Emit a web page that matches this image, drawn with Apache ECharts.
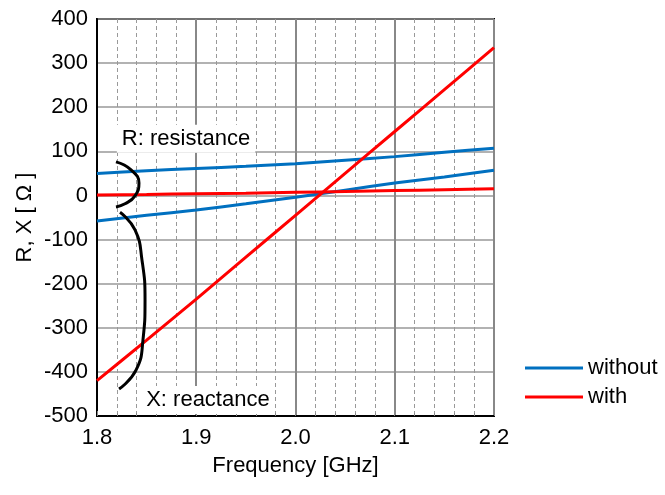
<!DOCTYPE html>
<html>
<head>
    <meta charset="utf-8" />
    <title>R, X vs frequency</title>
    <style type="text/css">
    body, html { margin: 0; width: 100%; height: 100%; overflow: hidden; background: #fff; }
    #container { width: 665px; height: 495px; }
    </style>
</head>
<body>
    <div id="container"></div>
<script src="https://cdn.jsdelivr.net/npm/echarts@6/dist/echarts.min.js"></script>
<script>
// frequency points (GHz)
var freq = [1.80, 1.85, 1.90, 1.95, 2.00, 2.05, 2.10, 2.15, 2.20];
// without: resistance / reactance
var withoutR = [50, 56, 61, 66, 72, 80, 88, 98, 107];
var withoutX = [-58, -45, -33, -19, -4, 12, 28, 42, 57];
// with: resistance / reactance
var withR = [1, 2, 4, 5, 7, 9, 11, 13, 15];
var withX = [-420, -328, -235, -140, -45, 50, 145, 240, 335];
var xTicks = ['1.8', '1.9', '2.0', '2.1', '2.2'];

// curly brace annotations (data coords)
var braceR = [[1.8191, 76], [1.8343, 58], [1.8423, 28], [1.8383, -1], [1.8282, -19], [1.8191, -26]];
var braceX = [[1.8232, -38], [1.8383, -78], [1.8453, -146], [1.8484, -237], [1.8463, -328], [1.8393, -396], [1.8222, -439]];

function pairs(ys) {
    return freq.map(function(f, i) { return [f, ys[i]]; });
}

var FONT = '"Liberation Sans", Arial, sans-serif';
var FS = 22;
var BLUE = '#0070c0';
var RED = '#ff0000';

var chart = echarts.init(document.getElementById('container'));

function lineSeries(name, ys, color) {
    return {
        name: name, type: 'line', data: pairs(ys), showSymbol: false, symbol: 'none',
        smooth: 0.2, lineStyle: { color: color, width: 3 }, itemStyle: { color: color },
        z: 5
    };
}

function braceSeries(pts) {
    return {
        type: 'line', data: pts, showSymbol: false, symbol: 'none', smooth: 0.5,
        silent: true, lineStyle: { color: '#000', width: 3 }, z: 6
    };
}

var option = {
    animation: false,
    textStyle: { fontFamily: FONT },
    grid: {
        left: 97, top: 19, width: 397, height: 397,
        show: true, borderColor: '#000', borderWidth: 2, backgroundColor: '#fff'
    },
    legend: {
        orient: 'vertical', left: 520, top: 352,
        itemWidth: 58, itemHeight: 3, itemGap: 7,
        icon: 'rect',
        data: ['without', 'with'],
        textStyle: { fontFamily: FONT, fontSize: FS, color: '#000', padding: [0, 0, 0, 0] }
    },
    xAxis: {
        type: 'value', min: 1.8, max: 2.2, interval: 0.1,
        name: 'Frequency [GHz]', nameLocation: 'middle', nameGap: 39,
        nameMoveOverlap: false,
        nameTextStyle: { fontFamily: FONT, fontSize: FS, color: '#000' },
        axisLine: { show: true, onZero: false, lineStyle: { color: '#000', width: 2 } },
        axisTick: { show: true, inside: true, length: 5, lineStyle: { color: '#888' } },
        minorTick: { show: true, splitNumber: 5, length: 3, lineStyle: { color: '#888' } },
        axisLabel: {
            fontFamily: FONT, fontSize: FS, color: '#000', margin: 11,
            formatter: function(v) {
                var s = v.toFixed(1);
                return xTicks.indexOf(s) >= 0 ? s : '';
            }
        },
        splitLine: { show: true, lineStyle: { color: '#888', width: 2 } },
        minorSplitLine: { show: true, lineStyle: { color: '#999', width: 1, type: [4, 3] } }
    },
    yAxis: {
        type: 'value', min: -500, max: 400, interval: 100,
        name: 'R, X [ Ω ]', nameLocation: 'middle', nameGap: 61,
        nameMoveOverlap: false,
        nameTextStyle: { fontFamily: FONT, fontSize: FS, color: '#000' },
        axisLine: { show: true, onZero: false, lineStyle: { color: '#000', width: 2 } },
        axisTick: { show: false },
        axisLabel: { fontFamily: FONT, fontSize: FS, color: '#000', margin: 9 },
        splitLine: { show: true, lineStyle: { color: '#999', width: 1.5 } }
    },
    series: [
        lineSeries('without', withoutR, BLUE),
        lineSeries('without', withoutX, BLUE),
        lineSeries('with', withR, RED),
        lineSeries('with', withX, RED),
        braceSeries(braceR),
        braceSeries(braceX)
    ]
};

chart.setOption(option);

// annotation labels placed from data coords
var pR = chart.convertToPixel({ gridIndex: 0 }, [1.82, 126]);
var pX = chart.convertToPixel({ gridIndex: 0 }, [1.8445, -466]);
chart.setOption({
    graphic: [
        {
            type: 'text', left: pR[0], top: pR[1] - 15, z: 10,
            style: {
                text: 'R: resistance', font: FS + 'px ' + FONT, fill: '#000',
                backgroundColor: '#fff', padding: [3, 5, 3, 5]
            }
        },
        {
            type: 'text', left: pX[0], top: pX[1] - 15, z: 10,
            style: {
                text: 'X: reactance', font: FS + 'px ' + FONT, fill: '#000',
                backgroundColor: '#fff', padding: [3, 5, 3, 5]
            }
        }
    ]
});
</script>
</body>
</html>
